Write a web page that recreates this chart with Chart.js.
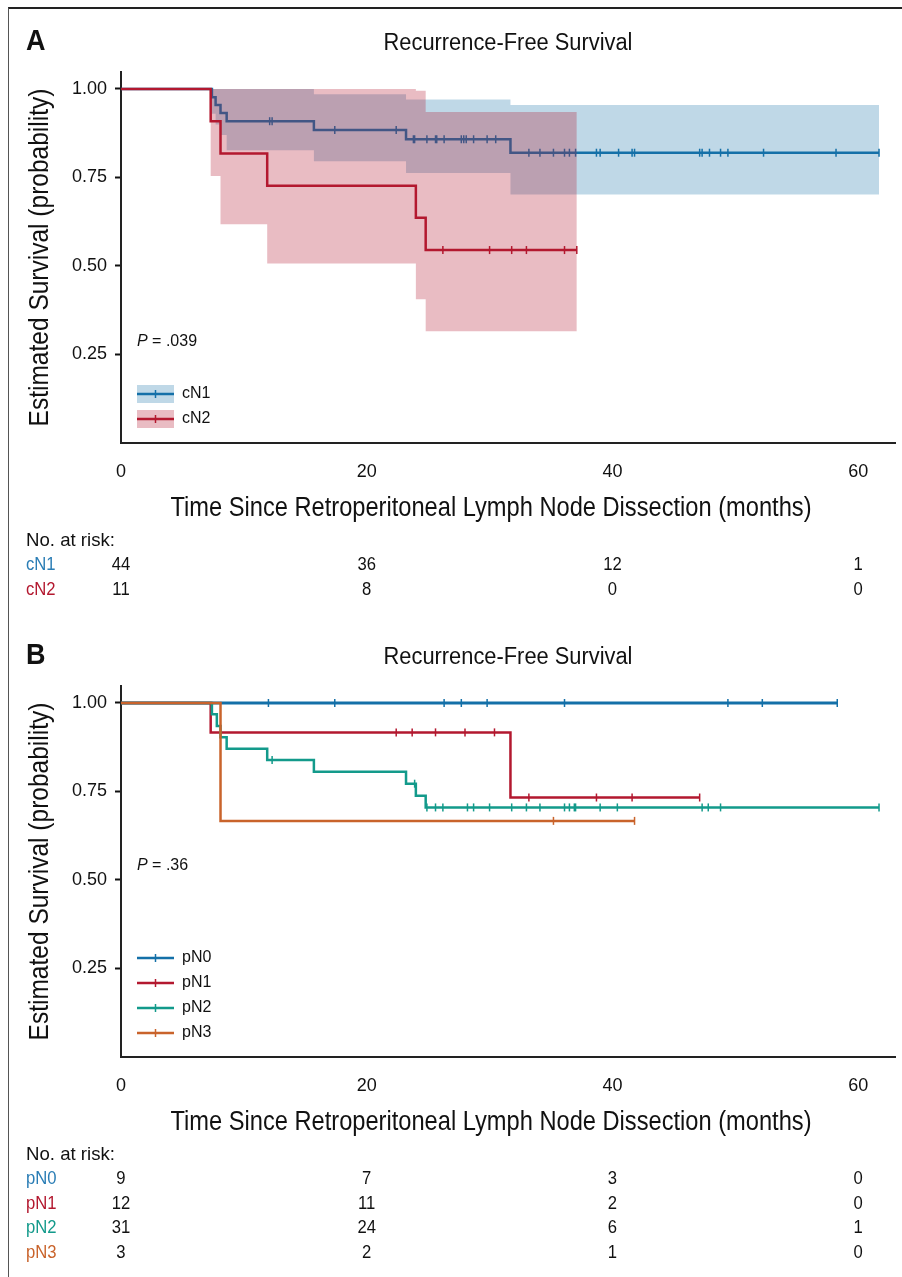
<!DOCTYPE html>
<html>
<head>
<meta charset="utf-8">
<script src="https://cdn.jsdelivr.net/npm/chart.js@4.4.1/dist/chart.umd.min.js"></script>
<style>
  body { margin: 0; background: #fff; }
  #figure { position: relative; width: 902px; height: 1277px; overflow: hidden; }
  #frame { position: absolute; left: 8px; top: 7px; width: 900px; height: 1280px;
           border-left: 1px solid #555; border-top: 2px solid #222; }
  canvas { position: absolute; left: 0; }
</style>
</head>
<body>
<div id="figure">
  <div id="frame"></div>
  <canvas id="chartA" width="902" height="614" style="top:0"></canvas>
  <canvas id="chartB" width="902" height="663" style="top:614px"></canvas>
</div>
<script>
const xTicks = [0, 20, 40, 60];
const yTicks = [0.25, 0.5, 0.75, 1.0];
const riskTimes = [0, 20, 40, 60];

// panel A - clinical N stage
const cn1Time  = [0, 7.4, 7.7, 8.1, 8.6, 15.7, 23.2, 31.7, 61.7];
const cn1Surv  = [1, 0.977, 0.955, 0.932, 0.909, 0.884, 0.858, 0.820, 0.820];
const cn1Upper = [1, 1, 1, 1, 1, 0.985, 0.970, 0.955, 0.955];
const cn1Lower = [1, 0.930, 0.900, 0.870, 0.827, 0.796, 0.763, 0.702, 0.702];
const cn1Censor = [12.1, 12.3, 17.4, 22.4, 23.8, 23.9, 24.9, 25.6, 25.7, 26.3, 27.7, 27.9, 28.1, 28.7,
                   29.8, 30.5, 33.2, 34.1, 35.2, 36.1, 36.5, 37.0, 38.7, 39.0, 40.5, 41.6, 41.8,
                   47.1, 47.3, 47.9, 48.8, 49.4, 52.3, 58.2, 61.7];

const cn2Time  = [0, 7.3, 8.1, 11.9, 24.0, 24.8, 37.1];
const cn2Surv  = [1, 0.909, 0.818, 0.727, 0.636, 0.545, 0.545];
const cn2Upper = [1, 1, 1, 1, 0.995, 0.935, 0.935];
const cn2Lower = [1, 0.754, 0.618, 0.507, 0.406, 0.316, 0.316];
const cn2Censor = [26.2, 30.0, 31.8, 33.0, 36.1, 37.1];

const cn1Risk = [44, 36, 12, 1];
const cn2Risk = [11, 8, 0, 0];

// panel B - pathologic N stage
const pn0Time = [0, 58.3];
const pn0Surv = [1, 1];
const pn0Censor = [12.0, 17.4, 26.3, 27.7, 29.8, 36.1, 49.4, 52.2, 58.3];

const pn1Time = [0, 7.3, 31.7, 47.1];
const pn1Surv = [1, 0.917, 0.733, 0.733];
const pn1Censor = [22.4, 23.7, 25.6, 28.0, 30.4, 33.2, 38.7, 41.6, 47.1];

const pn2Time = [0, 7.4, 7.8, 8.1, 8.6, 11.9, 15.7, 23.2, 24.0, 24.8, 61.7];
const pn2Surv = [1, 0.968, 0.935, 0.903, 0.871, 0.839, 0.806, 0.772, 0.738, 0.705, 0.705];
const pn2Censor = [12.3, 23.9, 24.9, 25.6, 26.2, 28.2, 28.7, 30.0, 31.8, 33.0, 34.1, 36.1, 36.5,
                   36.9, 37.0, 39.0, 40.4, 47.3, 47.8, 48.8, 61.7];

const pn3Time = [0, 8.1, 41.8];
const pn3Surv = [1, 0.667, 0.667];
const pn3Censor = [35.2, 41.8];

const pn0Risk = [9, 7, 3, 0];
const pn1Risk = [12, 11, 2, 0];
const pn2Risk = [31, 24, 6, 1];
const pn3Risk = [3, 2, 1, 0];

const BLUE = '#1470a8', RED = '#b3182f', TEAL = '#139a8b', ORANGE = '#c9632b';
const BLUE_BAND = 'rgba(20,112,168,0.27)', RED_BAND = 'rgba(179,24,47,0.29)';
const SANS = "'Liberation Sans', Arial, sans-serif";

Chart.defaults.font.family = SANS;
Chart.defaults.color = '#111';

function steps(times, vals) {
  return times.map((t, i) => ({ x: t, y: vals[i] }));
}
function survAt(times, surv, t) {
  let s = surv[0];
  for (let i = 0; i < times.length; i++) if (times[i] <= t) s = surv[i];
  return s;
}
function curve(label, times, surv, color, order, width) {
  return { label, data: steps(times, surv), borderColor: color, borderWidth: width || 2.5,
           stepped: 'before', pointRadius: 0, fill: false, order };
}
function censors(label, times, surv, cens, color, order) {
  return { label, data: cens.map(t => ({ x: t, y: survAt(times, surv, t) })), showLine: false,
           pointStyle: 'line', rotation: 90, pointRadius: 4, pointBorderWidth: 1.5,
           borderColor: color, backgroundColor: color, order };
}
function band(times, lower, upper, color, order) {
  return [
    { data: steps(times, lower), borderWidth: 0, pointRadius: 0, stepped: 'before', fill: false, order },
    { data: steps(times, upper), borderWidth: 0, pointRadius: 0, stepped: 'before', fill: '-1',
      backgroundColor: color, order: order - 0.5 }
  ];
}

// condensed-looking text helper
function narrow(ctx, text, x, y, font, sx, align) {
  ctx.save();
  ctx.translate(x, y);
  ctx.scale(sx, 1);
  ctx.font = font + ' ' + SANS;
  ctx.textAlign = align;
  ctx.textBaseline = 'middle';
  ctx.fillText(text, 0, 0);
  ctx.restore();
}

const decor = {
  id: 'decor',
  afterDraw(chart, args, o) {
    const { ctx, chartArea: a } = chart;
    const x = chart.scales.x;
    ctx.save();
    ctx.fillStyle = '#111';
    narrow(ctx, o.letter, 26, 42, 'bold 30px', 0.9, 'left');
    narrow(ctx, 'Recurrence-Free Survival', (a.left + a.right) / 2, 44, '23px', 0.95, 'center');
    ctx.save();
    ctx.translate(40, (a.top + a.bottom) / 2);
    ctx.rotate(-Math.PI / 2);
    narrow(ctx, 'Estimated Survival (probability)', 0, 0, '28.5px', 0.86, 'center');
    ctx.restore();
    narrow(ctx, 'Time Since Retroperitoneal Lymph Node Dissection (months)', 491, 508, '27.5px', 0.86, 'center');

    // P value
    ctx.textBaseline = 'middle';
    ctx.textAlign = 'left';
    ctx.font = 'italic 16px ' + SANS;
    ctx.fillText('P', 137, o.pY);
    const pw = ctx.measureText('P').width;
    ctx.font = '16px ' + SANS;
    ctx.fillText(' = ' + o.pValue, 137 + pw, o.pY);

    // legend, anchored at the bottom-left of the plot
    const n = o.legend.length;
    o.legend.forEach((item, i) => {
      const ry = 419 - (n - 1 - i) * 25;
      if (item.band) {
        ctx.fillStyle = item.band;
        ctx.fillRect(137, ry - 9, 37, 18);
      }
      ctx.strokeStyle = item.color;
      ctx.lineWidth = 2.5;
      ctx.beginPath();
      ctx.moveTo(137, ry); ctx.lineTo(174, ry);
      ctx.stroke();
      ctx.lineWidth = 1.5;
      ctx.beginPath();
      ctx.moveTo(155.5, ry - 4); ctx.lineTo(155.5, ry + 4);
      ctx.stroke();
      ctx.fillStyle = '#111';
      ctx.font = '16px ' + SANS;
      ctx.fillText(item.label, 182, ry);
    });

    // number at risk table
    narrow(ctx, 'No. at risk:', 26, 541, '19px', 0.98, 'left');
    o.risk.forEach((row, i) => {
      const ry = 565 + i * 24.7;
      ctx.fillStyle = row.color;
      narrow(ctx, row.label, 26, ry, '18.5px', 0.9, 'left');
      ctx.fillStyle = '#111';
      row.values.forEach((v, j) => {
        narrow(ctx, String(v), x.getPixelForValue(riskTimes[j]), ry, '18.5px', 0.9, 'center');
      });
    });
    ctx.restore();
  }
};

function makeChart(id, height, datasets, decorOpts) {
  return new Chart(document.getElementById(id), {
    type: 'line',
    data: { datasets },
    plugins: [decor],
    options: {
      responsive: false,
      animation: false,
      events: [],
      layout: { padding: { left: 0, top: 72, right: 7, bottom: 0 } },
      plugins: { legend: { display: false }, tooltip: { enabled: false }, decor: decorOpts },
      scales: {
        x: {
          type: 'linear', min: 0, max: 63,
          afterBuildTicks: s => { s.ticks = xTicks.map(v => ({ value: v })); },
          afterFit: s => { s.height = height - 443; },
          grid: { drawOnChartArea: false, drawTicks: false },
          border: { display: true, color: '#222', width: 2 },
          ticks: { padding: 18, font: { size: 18 }, color: '#111' }
        },
        y: {
          type: 'linear', min: 0, max: 1.048,
          afterBuildTicks: s => { s.ticks = yTicks.map(v => ({ value: v })); },
          afterFit: s => { s.width = 121; },
          grid: { drawOnChartArea: false, drawTicks: true, tickLength: 6, tickWidth: 2, tickColor: '#111' },
          border: { display: true, color: '#222', width: 2 },
          ticks: { padding: 8, font: { size: 18 }, color: '#111', callback: v => v.toFixed(2) }
        }
      }
    }
  });
}

makeChart('chartA', 614, [
  ...band(cn1Time, cn1Lower, cn1Upper, BLUE_BAND, 10),
  curve('cN1', cn1Time, cn1Surv, BLUE, 8),
  censors('cN1 censored', cn1Time, cn1Surv, cn1Censor, BLUE, 7),
  ...band(cn2Time, cn2Lower, cn2Upper, RED_BAND, 6),
  curve('cN2', cn2Time, cn2Surv, RED, 4),
  censors('cN2 censored', cn2Time, cn2Surv, cn2Censor, RED, 3)
], {
  letter: 'A', pValue: '.039', pY: 342,
  legend: [
    { label: 'cN1', color: BLUE, band: BLUE_BAND },
    { label: 'cN2', color: RED, band: RED_BAND }
  ],
  risk: [
    { label: 'cN1', color: '#2a7db5', values: cn1Risk },
    { label: 'cN2', color: RED, values: cn2Risk }
  ]
});

makeChart('chartB', 663, [
  curve('pN0', pn0Time, pn0Surv, BLUE, 12, 3),
  censors('pN0 censored', pn0Time, pn0Surv, pn0Censor, BLUE, 11),
  curve('pN1', pn1Time, pn1Surv, RED, 10),
  censors('pN1 censored', pn1Time, pn1Surv, pn1Censor, RED, 9),
  curve('pN2', pn2Time, pn2Surv, TEAL, 8),
  censors('pN2 censored', pn2Time, pn2Surv, pn2Censor, TEAL, 7),
  curve('pN3', pn3Time, pn3Surv, ORANGE, 6),
  censors('pN3 censored', pn3Time, pn3Surv, pn3Censor, ORANGE, 5)
], {
  letter: 'B', pValue: '.36', pY: 252,
  legend: [
    { label: 'pN0', color: BLUE },
    { label: 'pN1', color: RED },
    { label: 'pN2', color: TEAL },
    { label: 'pN3', color: ORANGE }
  ],
  risk: [
    { label: 'pN0', color: '#2a7db5', values: pn0Risk },
    { label: 'pN1', color: RED, values: pn1Risk },
    { label: 'pN2', color: TEAL, values: pn2Risk },
    { label: 'pN3', color: ORANGE, values: pn3Risk }
  ]
});
</script>
</body>
</html>
